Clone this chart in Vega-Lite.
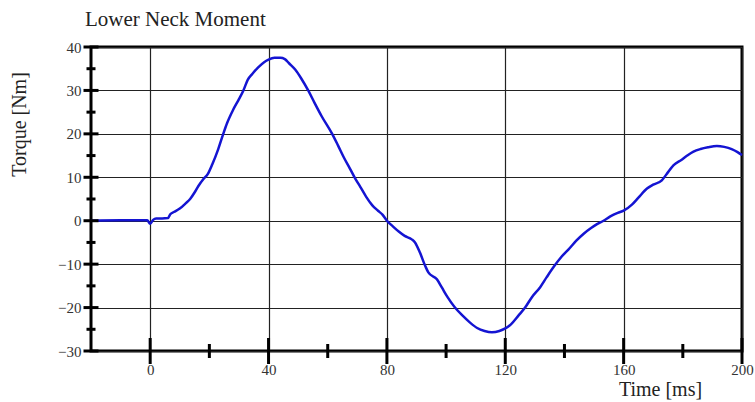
{
  "$schema": "https://vega.github.io/schema/vega-lite/v6.json",
  "width": 651,
  "height": 304,
  "autosize": "none",
  "padding": {"left": 91, "top": 47, "right": 13, "bottom": 51},
  "background": "white",
  "config": {
    "view": {"stroke": "#000", "strokeWidth": 3},
    "font": "Liberation Serif"
  },
  "title": {
    "text": "Lower Neck Moment",
    "anchor": "start",
    "frame": "group",
    "font": "Liberation Serif",
    "fontSize": 21,
    "fontWeight": "normal",
    "color": "#222",
    "offset": 10,
    "dx": -6
  },
  "datasets": {
    "curve": [
      {"t": -20, "v": 0}, {"t": -10, "v": 0.1}, {"t": -1, "v": 0.1}, {"t": 0, "v": -0.7},
      {"t": 1, "v": 0.2}, {"t": 2, "v": 0.5}, {"t": 4, "v": 0.5}, {"t": 6, "v": 0.6},
      {"t": 6.8, "v": 1.5}, {"t": 8, "v": 2}, {"t": 10, "v": 2.8}, {"t": 12, "v": 4},
      {"t": 13.5, "v": 5}, {"t": 15, "v": 6.5}, {"t": 16.3, "v": 8}, {"t": 18, "v": 9.6},
      {"t": 19.5, "v": 10.8}, {"t": 21, "v": 13}, {"t": 23, "v": 16.5}, {"t": 24.7, "v": 20},
      {"t": 26, "v": 22.5}, {"t": 28, "v": 25.5}, {"t": 30, "v": 28}, {"t": 31.5, "v": 30},
      {"t": 33, "v": 32.5}, {"t": 34.5, "v": 33.8}, {"t": 36.5, "v": 35.3}, {"t": 38.5, "v": 36.5},
      {"t": 40, "v": 37.1}, {"t": 42, "v": 37.5}, {"t": 44, "v": 37.5}, {"t": 45.5, "v": 37.2},
      {"t": 47, "v": 36.2}, {"t": 49, "v": 34.8}, {"t": 51, "v": 32.8}, {"t": 53.4, "v": 30},
      {"t": 55.5, "v": 27.2}, {"t": 58, "v": 24}, {"t": 61.5, "v": 20}, {"t": 63.5, "v": 17.3},
      {"t": 65.5, "v": 14.5}, {"t": 67.5, "v": 12}, {"t": 69.3, "v": 9.7}, {"t": 71, "v": 7.8},
      {"t": 73, "v": 5.5}, {"t": 75, "v": 3.6}, {"t": 77, "v": 2.3}, {"t": 78.5, "v": 1.4},
      {"t": 80, "v": 0}, {"t": 82, "v": -1.3}, {"t": 84, "v": -2.5}, {"t": 86, "v": -3.5},
      {"t": 88.4, "v": -4.3}, {"t": 89.5, "v": -5}, {"t": 91.2, "v": -7.4}, {"t": 93, "v": -10.5},
      {"t": 94, "v": -11.9}, {"t": 96.9, "v": -13.5}, {"t": 98.5, "v": -15.3}, {"t": 100.5, "v": -17.6},
      {"t": 103, "v": -20}, {"t": 105.5, "v": -21.8}, {"t": 108, "v": -23.4}, {"t": 110.5, "v": -24.7},
      {"t": 113, "v": -25.4}, {"t": 115.5, "v": -25.7}, {"t": 118, "v": -25.4}, {"t": 120, "v": -24.8},
      {"t": 122, "v": -23.8}, {"t": 124.5, "v": -21.8}, {"t": 126.7, "v": -20}, {"t": 129, "v": -17.6},
      {"t": 131.8, "v": -15.3}, {"t": 134, "v": -13}, {"t": 136.5, "v": -10.5}, {"t": 139, "v": -8.3},
      {"t": 141.4, "v": -6.6}, {"t": 144, "v": -4.6}, {"t": 146.5, "v": -3}, {"t": 149, "v": -1.7},
      {"t": 151, "v": -0.8}, {"t": 153.2, "v": 0}, {"t": 155.5, "v": 1}, {"t": 158, "v": 1.8},
      {"t": 160, "v": 2.3}, {"t": 162.8, "v": 3.7}, {"t": 165, "v": 5.3}, {"t": 167.9, "v": 7.4},
      {"t": 170, "v": 8.3}, {"t": 172.9, "v": 9.3}, {"t": 174.5, "v": 10.7}, {"t": 176.9, "v": 12.8},
      {"t": 179.5, "v": 14}, {"t": 181.5, "v": 15}, {"t": 183.6, "v": 15.9}, {"t": 186, "v": 16.5},
      {"t": 188.5, "v": 16.9}, {"t": 191.5, "v": 17.2}, {"t": 194, "v": 17}, {"t": 196.5, "v": 16.5},
      {"t": 198.5, "v": 15.8}, {"t": 200, "v": 15.1}
    ],
    "ymajor": [{"v": -30}, {"v": -20}, {"v": -10}, {"v": 0}, {"v": 10}, {"v": 20}, {"v": 30}, {"v": 40}],
    "yminor": [{"v": -25}, {"v": -15}, {"v": -5}, {"v": 5}, {"v": 15}, {"v": 25}, {"v": 35}],
    "xmajor": [{"t": 0}, {"t": 40}, {"t": 80}, {"t": 120}, {"t": 160}, {"t": 200}],
    "xminor": [{"t": 20}, {"t": 60}, {"t": 100}, {"t": 140}, {"t": 180}]
  },
  "layer": [
    {
      "data": {"name": "curve"},
      "mark": {"type": "line", "color": "#1414d2", "strokeWidth": 2.5, "interpolate": "monotone"},
      "encoding": {
        "x": {
          "field": "t", "type": "quantitative",
          "scale": {"domain": [-20, 200], "nice": false, "zero": false},
          "axis": {
            "values": [0, 40, 80, 120, 160, 200],
            "grid": true, "gridColor": "#222", "gridWidth": 1.2, "gridOpacity": 1,
            "ticks": false, "domain": false,
            "labelFont": "Liberation Serif", "labelFontSize": 15, "labelColor": "#333",
            "labelPadding": 11, "labelFlush": false,
            "title": "Time [ms]",
            "titleFont": "Liberation Serif", "titleFontSize": 20, "titleFontWeight": "normal",
            "titleColor": "#222", "titleX": 569, "titleY": 44, "titleAlign": "center",
            "titleBaseline": "alphabetic"
          }
        },
        "y": {
          "field": "v", "type": "quantitative",
          "scale": {"domain": [-30, 40], "nice": false, "zero": false},
          "axis": {
            "values": [-30, -20, -10, 0, 10, 20, 30, 40],
            "grid": true, "gridColor": "#222", "gridWidth": 1.2, "gridOpacity": 1,
            "ticks": false, "domain": false,
            "labelFont": "Liberation Serif", "labelFontSize": 15, "labelColor": "#333",
            "labelPadding": 10, "labelFlush": false,
            "title": "Torque [Nm]",
            "titleFont": "Liberation Serif", "titleFontSize": 20, "titleFontWeight": "normal",
            "titleColor": "#222", "titleX": -72, "titleY": 77, "titleAngle": -90,
            "titleAlign": "center", "titleBaseline": "middle"
          }
        }
      }
    },
    {
      "data": {"name": "ymajor"},
      "mark": {"type": "tick", "orient": "horizontal", "size": 15, "thickness": 3, "color": "#000", "opacity": 1},
      "encoding": {
        "x": {"datum": -20, "type": "quantitative"},
        "y": {"field": "v", "type": "quantitative"}
      }
    },
    {
      "data": {"name": "yminor"},
      "mark": {"type": "tick", "orient": "horizontal", "size": 9, "thickness": 3, "color": "#000", "opacity": 1},
      "encoding": {
        "x": {"datum": -20, "type": "quantitative"},
        "y": {"field": "v", "type": "quantitative"}
      }
    },
    {
      "data": {"name": "xmajor"},
      "mark": {"type": "tick", "orient": "vertical", "size": 26, "thickness": 3, "color": "#000", "opacity": 1},
      "encoding": {
        "x": {"field": "t", "type": "quantitative"},
        "y": {"datum": -30, "type": "quantitative"}
      }
    },
    {
      "data": {"name": "xminor"},
      "mark": {"type": "tick", "orient": "vertical", "size": 14, "thickness": 3, "color": "#000", "opacity": 1},
      "encoding": {
        "x": {"field": "t", "type": "quantitative"},
        "y": {"datum": -30, "type": "quantitative"}
      }
    }
  ]
}
